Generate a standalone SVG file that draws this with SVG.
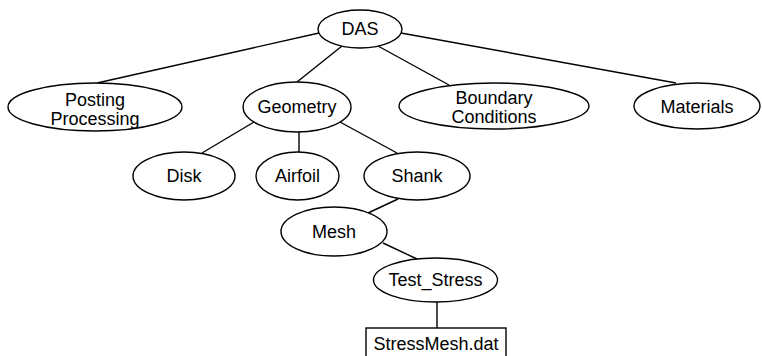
<svg xmlns="http://www.w3.org/2000/svg" width="762" height="356" viewBox="0 0 762 356">
  <style>
    .node ellipse, .node rect { fill: #ffffff; stroke: #000000; stroke-width: 1.4; }
    .node text { font-family: "Liberation Sans", Arial, sans-serif; font-size: 18px; fill: #000000; text-anchor: middle; }
    #connectors line { stroke: #000000; stroke-width: 1.4; }
  </style>
  <rect width="762" height="356" fill="#ffffff"/>

  <g id="connectors">
    <line x1="319" y1="33" x2="97" y2="83"/>
    <line x1="342" y1="46" x2="297" y2="82"/>
    <line x1="378" y1="46" x2="449" y2="85"/>
    <line x1="401" y1="33" x2="676" y2="83"/>
    <line x1="254" y1="122" x2="202" y2="153"/>
    <line x1="299" y1="132" x2="299" y2="152"/>
    <line x1="340" y1="122" x2="397" y2="153"/>
    <line x1="398" y1="199" x2="368" y2="213"/>
    <line x1="383" y1="243" x2="417" y2="259"/>
    <line x1="437" y1="302" x2="437" y2="328"/>
  </g>

  <g id="das" class="node">
    <ellipse cx="360" cy="29" rx="42" ry="19"/>
    <text x="360" y="35">DAS</text>
  </g>
  <g id="posting-processing" class="node">
    <ellipse cx="95" cy="107" rx="87" ry="24"/>
    <text x="95" y="106">Posting</text>
    <text x="95" y="125">Processing</text>
  </g>
  <g id="geometry" class="node">
    <ellipse cx="297" cy="107" rx="54" ry="25"/>
    <text x="297" y="113">Geometry</text>
  </g>
  <g id="boundary-conditions" class="node">
    <ellipse cx="494" cy="106" rx="95" ry="23"/>
    <text x="494" y="104">Boundary</text>
    <text x="494" y="123">Conditions</text>
  </g>
  <g id="materials" class="node">
    <ellipse cx="697" cy="106" rx="63" ry="23"/>
    <text x="697" y="113">Materials</text>
  </g>
  <g id="disk" class="node">
    <ellipse cx="184" cy="176" rx="51" ry="24"/>
    <text x="184" y="182">Disk</text>
  </g>
  <g id="airfoil" class="node">
    <ellipse cx="297.5" cy="176" rx="41.5" ry="24"/>
    <text x="297.5" y="182">Airfoil</text>
  </g>
  <g id="shank" class="node">
    <ellipse cx="417" cy="176" rx="53" ry="24"/>
    <text x="417" y="182">Shank</text>
  </g>
  <g id="mesh" class="node">
    <ellipse cx="334" cy="231.5" rx="53" ry="24.5"/>
    <text x="334" y="238">Mesh</text>
  </g>
  <g id="test-stress" class="node">
    <ellipse cx="435.5" cy="280" rx="62" ry="22"/>
    <text x="435.5" y="286">Test_Stress</text>
  </g>
  <g id="stressmesh-dat" class="node">
    <rect x="366" y="328" width="140" height="40"/>
    <text x="436" y="350">StressMesh.dat</text>
  </g>
</svg>
